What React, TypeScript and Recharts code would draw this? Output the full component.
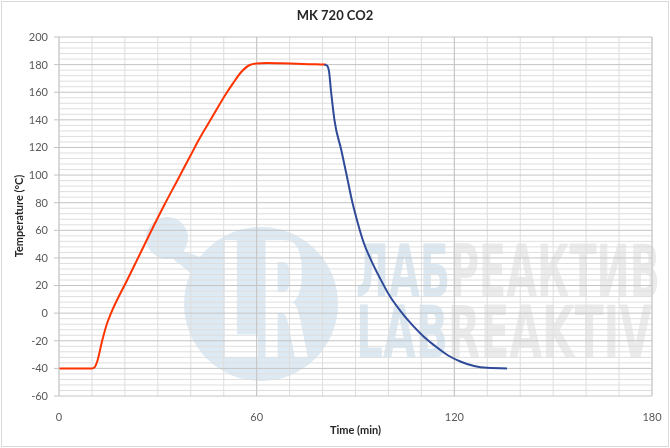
import { CartesianGrid, Line, LineChart, ReferenceLine, XAxis, YAxis } from "recharts";

// heating ramp (red) and cool-down (blue): [min, °C]
const heatTime = [0, 5, 10, 10.8, 11.6, 13.1, 14.5, 15.8, 20.7, 24, 28.5, 32, 36, 40, 42.4, 46.5, 50.8, 52.8, 55.4, 57.9, 59.9, 63, 67, 72, 78, 81];
const heatTemp = [-40, -40, -40, -39.2, -35, -20, -8, 0, 24, 40, 62, 78.5, 96.5, 114.5, 125.4, 142, 159.2, 166.4, 174.8, 179.7, 180.8, 181.2, 181, 180.6, 180.2, 180];

const coolTime = [80.5, 81.3, 81.9, 82.6, 83.6, 85.7, 87.4, 88.7, 90.5, 92.5, 95, 97.5, 100.5, 103.5, 107, 110.5, 114, 118, 122, 126, 130, 136];
const coolTemp = [180, 179.4, 176, 160, 140, 118, 99, 84, 67, 51, 37, 25, 12, 2, -8, -16.5, -23.5, -30.5, -35.2, -38.3, -39.6, -40];

const xTicks = [0, 60, 120, 180];
const yTicks = [-60, -40, -20, 0, 20, 40, 60, 80, 100, 120, 140, 160, 180, 200];

const heatData = heatTime.map((t, i) => ({ t, v: heatTemp[i] }));
const coolData = coolTime.map((t, i) => ({ t, v: coolTemp[i] }));

// gridlines: every 4 °C / 10 min, heavier every 20 °C and every hour
const minorY = Array.from({ length: 66 }, (_, i) => -60 + i * 4).filter((v) => v % 20 !== 0);
const minorX = Array.from({ length: 19 }, (_, i) => i * 10);
const majorX = [60, 120, 180];

const font = "Lato, 'Open Sans', sans-serif";
const axisText = { fill: "#595959", fontSize: 11, fontFamily: font };
const wmFont = "'DejaVu Sans Condensed', 'DejaVu Sans', sans-serif";

function Watermark() {
  return (
    <svg width={670} height={448} style={{ position: "absolute", left: 0, top: 0 }}>
      <g opacity={0.8}>
        <circle cx={167} cy={238} r={21} fill="#d6e5f0" />
        <path d="M180 250 L215 262 L205 285 L172 258 Z" fill="#d6e5f0" />
        <circle cx={261} cy={304} r={77} fill="#d6e5f0" />
        <text x={219} y={357} fill="#ffffff" fontFamily={wmFont} fontWeight="bold" fontSize={160} textLength={90} lengthAdjust="spacingAndGlyphs">
          LR
        </text>
        <g fontFamily={wmFont} fontWeight="bold" fontSize={52}>
          <text transform="translate(356 297) scale(1 1.42)" textLength={304} lengthAdjust="spacingAndGlyphs">
            <tspan fill="#d3e3ee">ЛАБ</tspan>
            <tspan fill="#e6e6e6">РЕАКТИВ</tspan>
          </text>
          <text transform="translate(356 358) scale(1 1.42)" textLength={296} lengthAdjust="spacingAndGlyphs">
            <tspan fill="#d3e3ee">LAB</tspan>
            <tspan fill="#e6e6e6">REAKTIV</tspan>
          </text>
        </g>
      </g>
    </svg>
  );
}

export default function App() {
  return (
    <div style={{ position: "relative", width: 670, height: 448, background: "#fff", fontFamily: font }}>
      <style>{"body{margin:0}"}</style>
      <div
        style={{
          position: "absolute",
          left: 1,
          top: 1,
          width: 666,
          height: 444,
          border: "1px solid #d9d9d9",
        }}
      />
      <Watermark />
      <div style={{ position: "absolute", left: 0, top: 0 }}>
        <LineChart width={670} height={448} margin={{ top: 37, right: 18, bottom: 0, left: 0 }}>
          <CartesianGrid horizontal={false} verticalValues={minorX} stroke="#dedede" />
          {minorY.map((y) => (
            <ReferenceLine key={"my" + y} y={y} stroke="#dedede" />
          ))}
          {yTicks.map((y) => (
            <ReferenceLine key={"y" + y} y={y} stroke="#c4c4c4" />
          ))}
          {majorX.map((x) => (
            <ReferenceLine key={"x" + x} x={x} stroke="#c4c4c4" />
          ))}
          <XAxis
            dataKey="t"
            type="number"
            domain={[0, 180]}
            ticks={xTicks}
            height={52}
            axisLine={false}
            tickLine={false}
            tickMargin={11}
            tick={axisText}
            allowDataOverflow
          />
          <YAxis
            dataKey="v"
            type="number"
            domain={[-60, 200]}
            ticks={yTicks}
            width={59}
            axisLine={{ stroke: "#c4c4c4" }}
            tickLine={{ stroke: "#c4c4c4" }}
            tickSize={5}
            tickMargin={6}
            tick={axisText}
          />
          <Line data={heatData} dataKey="v" type="monotone" stroke="#ff3300" strokeWidth={2} dot={false} isAnimationActive={false} />
          <Line data={coolData} dataKey="v" type="monotone" stroke="#2f4a98" strokeWidth={2} dot={false} isAnimationActive={false} />
        </LineChart>
      </div>
      <div
        style={{
          position: "absolute",
          left: 0,
          width: 670,
          top: 7,
          textAlign: "center",
          fontWeight: "bold",
          fontSize: 13,
          color: "#262626",
        }}
      >
        MK 720 CO2
      </div>
      <div
        style={{
          position: "absolute",
          left: 59,
          width: 593,
          top: 423,
          textAlign: "center",
          fontWeight: "bold",
          fontSize: 11,
          color: "#262626",
        }}
      >
        Time (min)
      </div>
      <div
        style={{
          position: "absolute",
          left: 18,
          top: 216,
          transform: "translate(-50%, -50%) rotate(-90deg)",
          whiteSpace: "nowrap",
          fontWeight: "bold",
          fontSize: 11,
          color: "#262626",
        }}
      >
        Temperature (°C)
      </div>
    </div>
  );
}
